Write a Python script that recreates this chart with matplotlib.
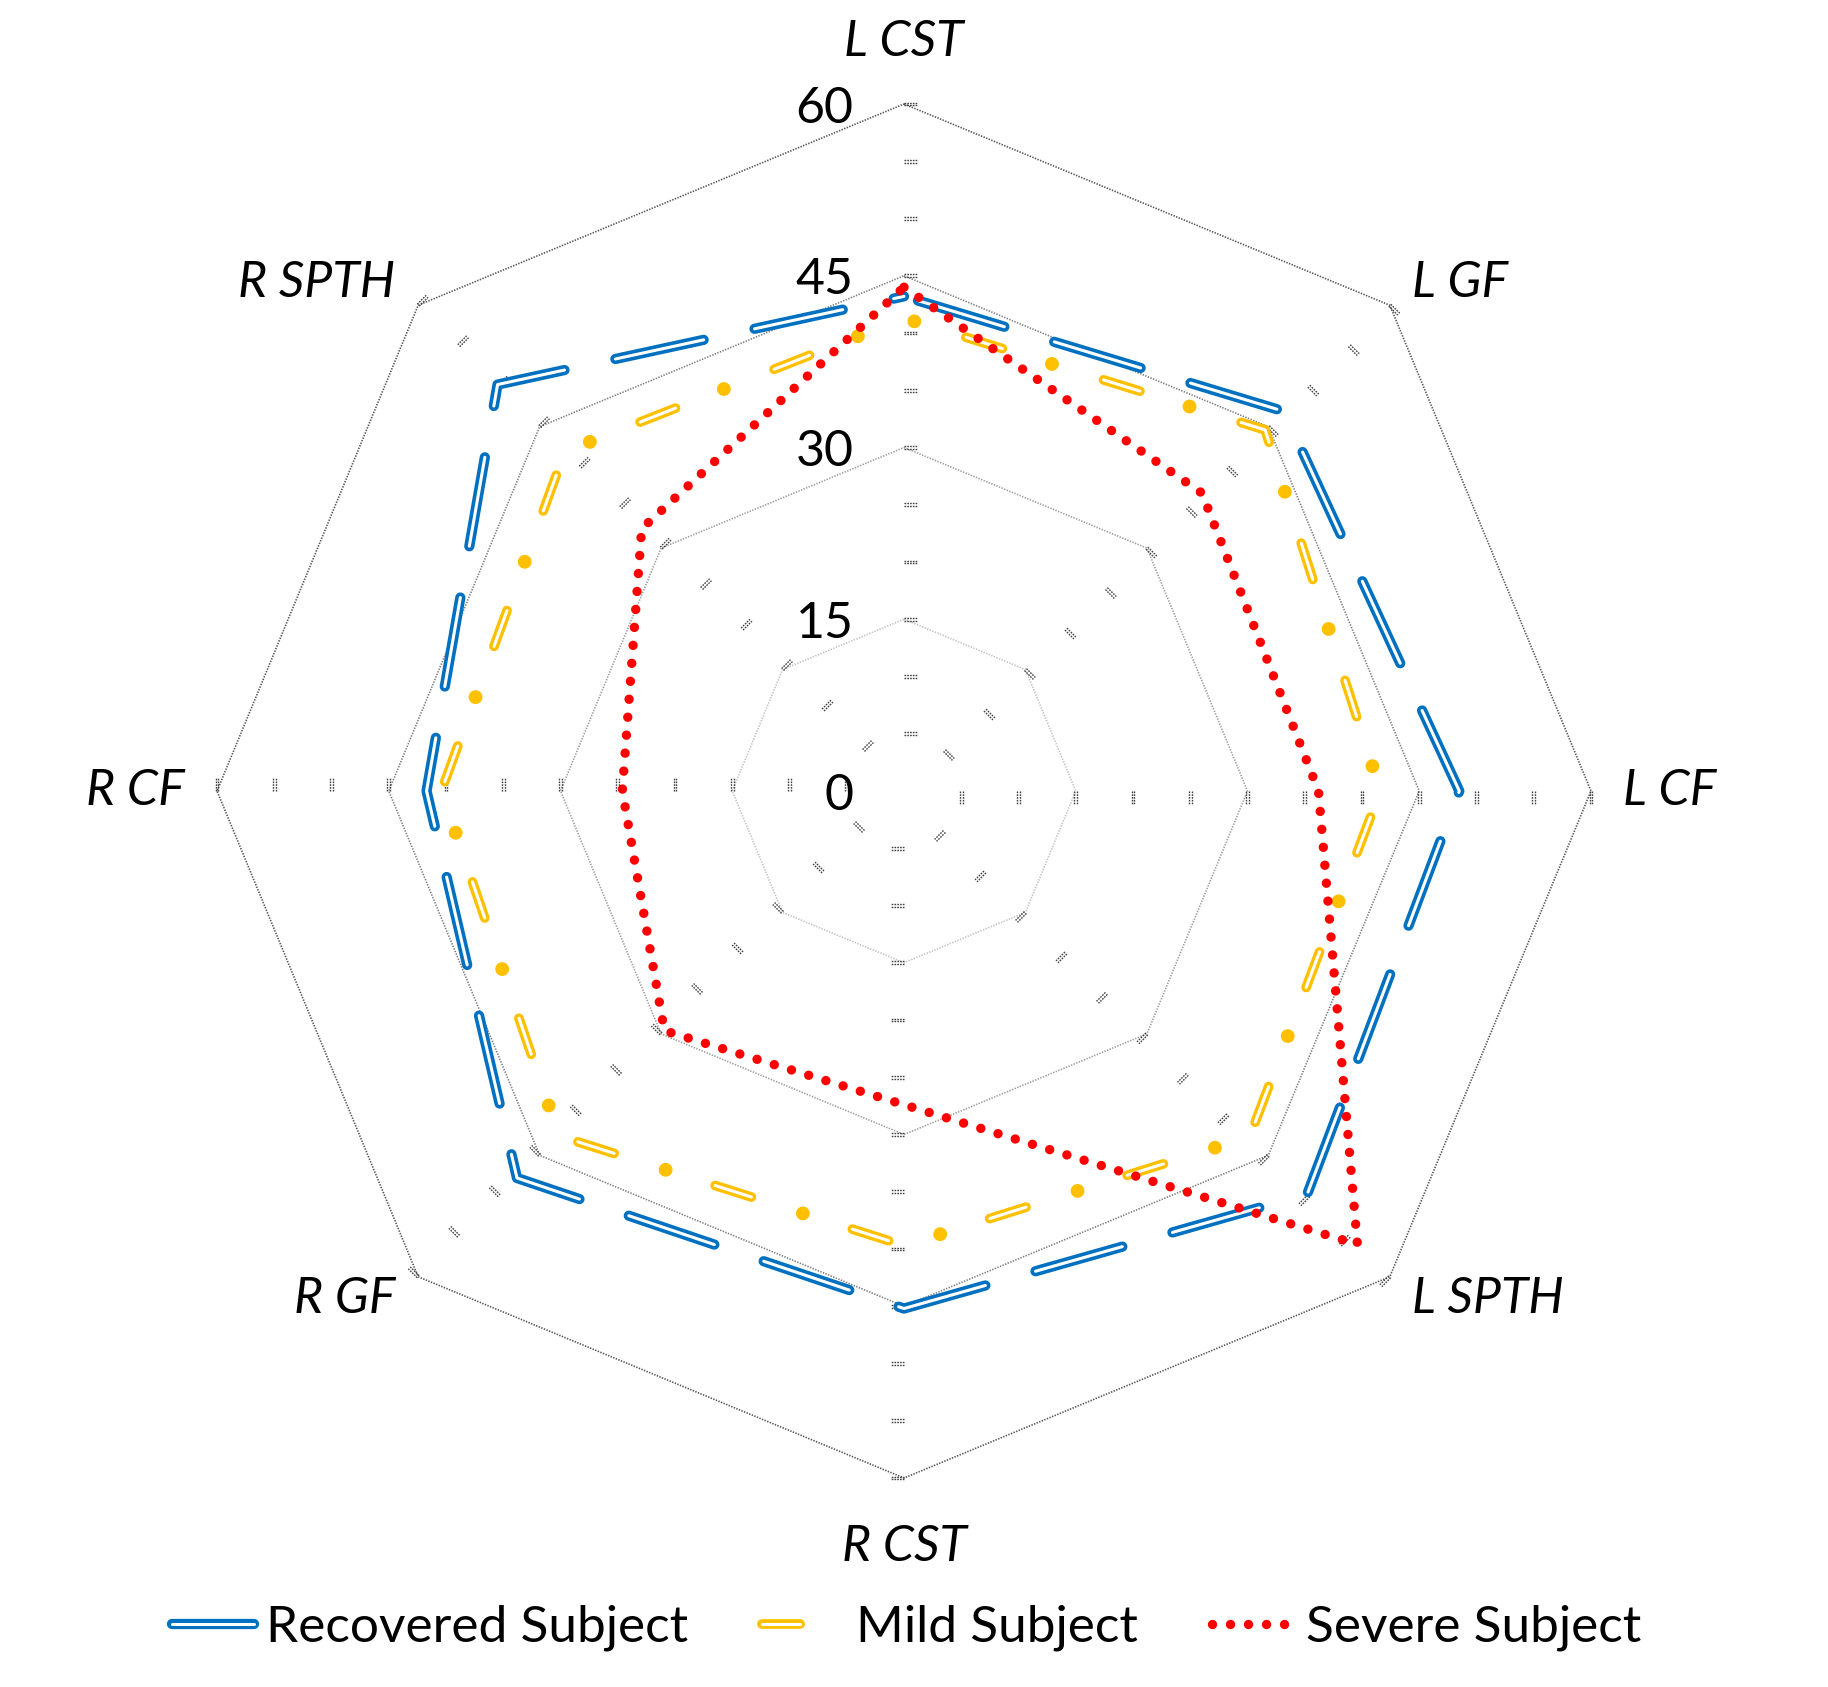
import numpy as np
import matplotlib
matplotlib.use("Agg")
import matplotlib.pyplot as plt
from matplotlib.lines import Line2D
from matplotlib.legend_handler import HandlerTuple

plt.rcParams['lines.scale_dashes'] = False
plt.rcParams['font.family'] = ['Lato', 'DejaVu Sans']

categories = ['L CST', 'L GF', 'L CF', 'L SPTH', 'R CST', 'R GF', 'R CF', 'R SPTH']
recovered = [43.2, 46.9, 48.5, 49.8, 45.2, 47.8, 41.7, 50.2]
mild = [41.3, 44.6, 41.6, 42.7, 39.7, 42.6, 40.4, 41.9]
severe = [44.0, 36.8, 36.2, 56.0, 27.4, 29.6, 24.6, 32.4]
ring_ticks = [0, 15, 30, 45, 60]
minor_step = 5
names = ['Recovered Subject', 'Mild Subject', 'Severe Subject']

BLUE = '#0070C0'
YELLOW = '#FFC000'
RED = '#FF0000'

n = len(categories)
theta = np.arange(n) * 2 * np.pi / n   # clockwise from top


def xy(vals):
    v = np.asarray(list(vals) + [vals[0]], dtype=float)
    t = np.append(theta, theta[0])
    return v * np.sin(t), v * np.cos(t)


fig = plt.figure(figsize=(18.28, 16.87), dpi=100)
ax = fig.add_axes([0, 0, 1, 1])
# 1 unit = 11.45 px, centre at (904, 791) px from top-left
s = 11.45
ax.set_xlim(-904 / s, (1828 - 904) / s)
ax.set_ylim(-(1687 - 791) / s, 791 / s)
ax.axis('off')

# grid rings
ring_cols = {15: '#c4c4c4', 30: '#a0a0a0', 45: '#808080', 60: '#555555'}
for r in ring_ticks[1:]:
    gx, gy = xy([r] * n)
    ax.plot(gx, gy, color=ring_cols[r], lw=1.2, ls=(0, (1, 1)), zorder=1)

# small tick marks along each spoke
for t in theta:
    tx, ty = np.cos(t), -np.sin(t)
    for v in np.arange(minor_step, ring_ticks[-1] + 0.1, minor_step):
        px, py = v * np.sin(t), v * np.cos(t)
        for off in (-0.12, 0.12):
            qx, qy = px + off * np.sin(t), py + off * np.cos(t)
            ax.plot([qx, qx + 1.1 * tx], [qy, qy + 1.1 * ty], color='#404040',
                    lw=1.0, ls=(0, (1.2, 0.8)), zorder=1)

# tick labels
for r in ring_ticks:
    ax.text(-4.4, r - 0.4, str(r), ha='right', va='center', fontsize=36, color='black')

# category labels
for i, (lab, t) in enumerate(zip(categories, theta)):
    sx, cy = np.sin(t), np.cos(t)
    if abs(sx) < 1e-6:
        rr = 65.4 if cy > 0 else 66.0
        ha = 'center'
    else:
        rr = 62.8
        ha = 'left' if sx > 0 else 'right'
    ax.text(rr * sx, rr * cy, lab, ha=ha, va='center', fontsize=36,
            fontstyle='italic', color='black')

# Recovered: blue outlined long dashes
bx, by = xy(recovered)
ax.plot(bx, by, color=BLUE, lw=7.4, ls=(92, (65, 37.5)),
        dash_capstyle='round', dash_joinstyle='round', zorder=3)
ax.plot(bx, by, color='white', lw=2.2, ls=(92, (65, 37.5)),
        dash_capstyle='round', dash_joinstyle='round', zorder=3)

# Mild: yellow outlined dash + dot
yx, yy = xy(mild)
ax.plot(yx, yy, color=YELLOW, lw=7.0, ls=(57, (27.4, 76.3)),
        dash_capstyle='round', dash_joinstyle='round', zorder=4)
ax.plot(yx, yy, color='white', lw=2.2, ls=(57, (27.4, 76.3)),
        dash_capstyle='round', dash_joinstyle='round', zorder=4)
ax.plot(yx, yy, color=YELLOW, lw=10, ls=(95.9, (0.01, 103.69)),
        dash_capstyle='round', zorder=4)

# Severe: red round dots
rx, ry = xy(severe)
ax.plot(rx, ry, color=RED, lw=6.8, ls=(0, (0.01, 12.96)),
        dash_capstyle='round', zorder=5)

# legend
h_rec = (Line2D([], [], color=BLUE, lw=7.4, solid_capstyle='round'),
         Line2D([], [], color='white', lw=2.2, solid_capstyle='round'))
h_mild = (Line2D([], [], color=YELLOW, lw=7.0, ls=(0, (27.4, 200)), dash_capstyle='round'),
          Line2D([], [], color='white', lw=2.2, ls=(0, (27.4, 200)), dash_capstyle='round'))
h_sev = (Line2D([], [], color=RED, lw=6.8, ls=(0, (0.01, 12.96)), dash_capstyle='round'),)
fig.legend([h_rec, h_mild, h_sev], names, loc='center', bbox_to_anchor=(0.496, 0.035),
           ncol=3, frameon=False, fontsize=37, handlelength=1.6, handletextpad=0.22,
           columnspacing=1.45, handler_map={tuple: HandlerTuple(ndivide=1)})

fig.savefig('out.png', dpi=100)
